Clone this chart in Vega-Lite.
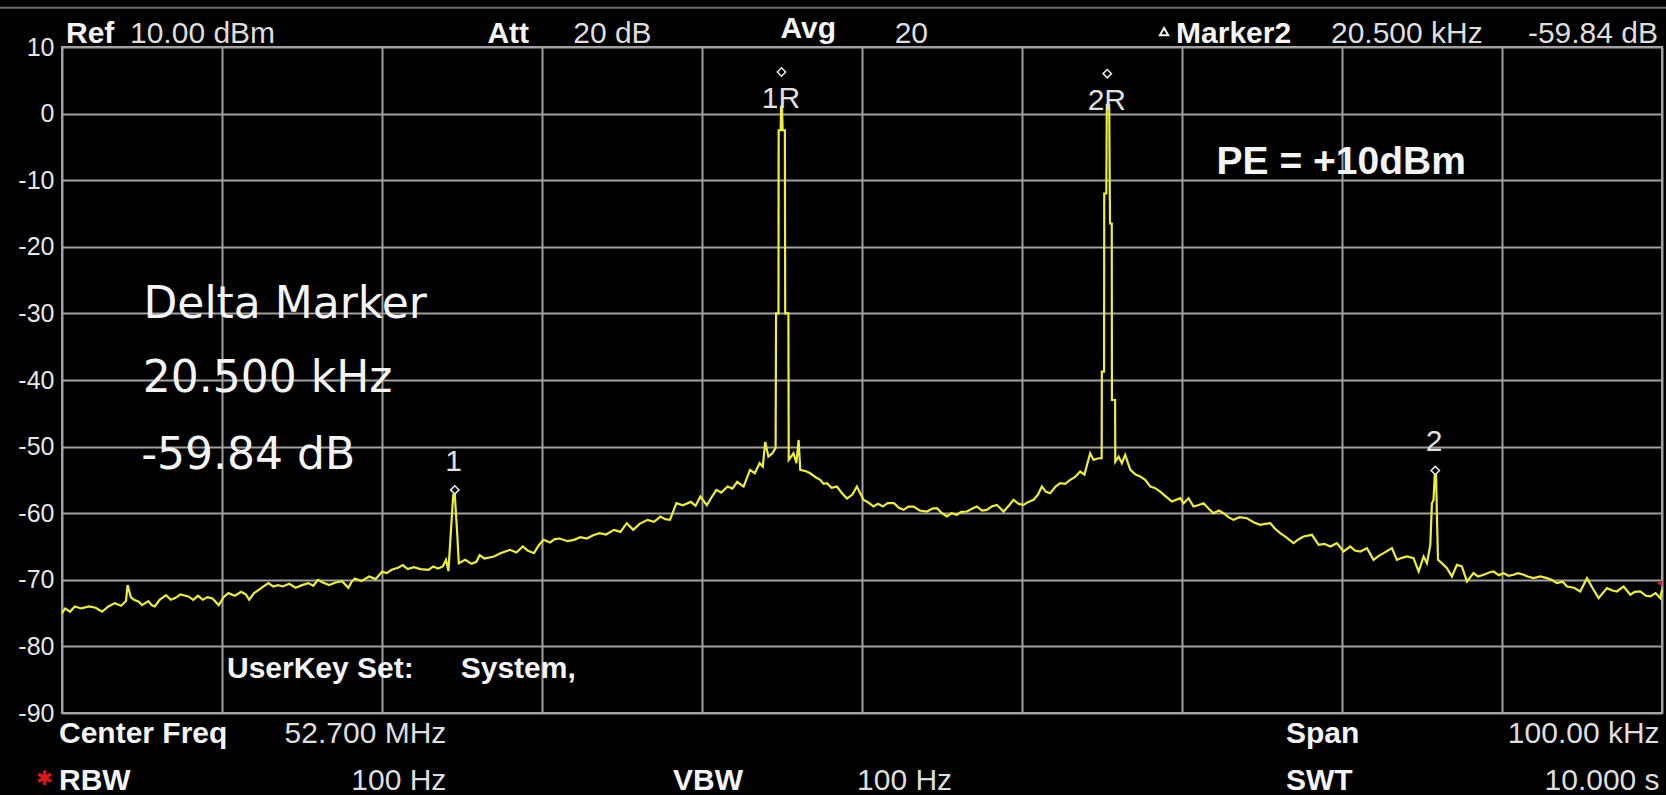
{
  "$schema": "https://vega.github.io/schema/vega-lite/v6.json",
  "autosize": "none",
  "width": 1600,
  "height": 666,
  "padding": {"left": 62, "top": 47, "right": 4, "bottom": 82},
  "background": "#000000",
  "config": {
    "view": {"fill": "#000000", "stroke": "#a8a8a8", "strokeWidth": 2},
    "text": {"font": "Liberation Sans", "baseline": "middle"}
  },
  "datasets": {
    "trace": [
      {"k": -50.0, "db": -75.0}, {"k": -49.8, "db": -74.3}, {"k": -49.5, "db": -74.8}, {"k": -49.2, "db": -74.0},
      {"k": -48.8, "db": -74.3}, {"k": -48.3, "db": -74.0}, {"k": -47.9, "db": -74.2}, {"k": -47.5, "db": -74.8},
      {"k": -47.1, "db": -74.0}, {"k": -46.7, "db": -73.5}, {"k": -46.3, "db": -73.9}, {"k": -46.0, "db": -73.2},
      {"k": -45.9, "db": -70.8}, {"k": -45.7, "db": -72.6}, {"k": -45.5, "db": -73.0}, {"k": -45.2, "db": -73.3},
      {"k": -45.0, "db": -73.8}, {"k": -44.6, "db": -73.2}, {"k": -44.4, "db": -73.8}, {"k": -44.2, "db": -74.0},
      {"k": -43.9, "db": -73.0}, {"k": -43.5, "db": -72.3}, {"k": -43.2, "db": -73.0}, {"k": -42.9, "db": -72.7},
      {"k": -42.6, "db": -72.2}, {"k": -42.1, "db": -72.5}, {"k": -41.8, "db": -73.0}, {"k": -41.5, "db": -72.4},
      {"k": -41.2, "db": -73.0}, {"k": -40.9, "db": -72.6}, {"k": -40.6, "db": -72.8}, {"k": -40.2, "db": -73.8},
      {"k": -39.9, "db": -72.6}, {"k": -39.6, "db": -72.0}, {"k": -39.2, "db": -72.4}, {"k": -38.8, "db": -71.8},
      {"k": -38.5, "db": -72.2}, {"k": -38.3, "db": -73.0}, {"k": -38.0, "db": -72.0}, {"k": -37.7, "db": -71.5},
      {"k": -37.4, "db": -71.0}, {"k": -37.1, "db": -70.5}, {"k": -36.8, "db": -71.0}, {"k": -36.5, "db": -70.8},
      {"k": -36.2, "db": -71.0}, {"k": -35.8, "db": -70.6}, {"k": -35.4, "db": -71.2}, {"k": -35.0, "db": -70.8},
      {"k": -34.6, "db": -70.5}, {"k": -34.3, "db": -70.9}, {"k": -34.0, "db": -70.0}, {"k": -33.7, "db": -70.4},
      {"k": -33.3, "db": -70.8}, {"k": -32.9, "db": -70.4}, {"k": -32.5, "db": -70.2}, {"k": -32.1, "db": -71.2},
      {"k": -31.9, "db": -70.3}, {"k": -31.7, "db": -69.8}, {"k": -31.3, "db": -70.2}, {"k": -30.8, "db": -69.5},
      {"k": -30.4, "db": -69.9}, {"k": -30.0, "db": -68.8}, {"k": -29.7, "db": -69.0}, {"k": -29.4, "db": -68.5},
      {"k": -29.0, "db": -68.2}, {"k": -28.7, "db": -67.8}, {"k": -28.4, "db": -68.4}, {"k": -28.0, "db": -68.1},
      {"k": -27.6, "db": -68.4}, {"k": -27.1, "db": -68.5}, {"k": -26.8, "db": -68.0}, {"k": -26.5, "db": -68.3},
      {"k": -26.2, "db": -68.0}, {"k": -26.0, "db": -67.0}, {"k": -25.85, "db": -68.7}, {"k": -25.7, "db": -63.0},
      {"k": -25.55, "db": -57.3}, {"k": -25.45, "db": -57.3}, {"k": -25.3, "db": -63.0}, {"k": -25.2, "db": -67.5},
      {"k": -24.8, "db": -67.0}, {"k": -24.4, "db": -67.6}, {"k": -24.1, "db": -67.3},
      {"k": -23.9, "db": -66.3}, {"k": -23.6, "db": -66.8}, {"k": -23.0, "db": -66.5}, {"k": -22.6, "db": -66.0},
      {"k": -22.0, "db": -65.5}, {"k": -21.6, "db": -65.9}, {"k": -21.2, "db": -65.0}, {"k": -20.9, "db": -65.6},
      {"k": -20.5, "db": -66.0}, {"k": -20.2, "db": -64.8}, {"k": -19.9, "db": -64.0}, {"k": -19.5, "db": -64.4},
      {"k": -19.2, "db": -63.9}, {"k": -18.9, "db": -63.8}, {"k": -18.4, "db": -64.2}, {"k": -18.0, "db": -64.0},
      {"k": -17.6, "db": -63.6}, {"k": -17.2, "db": -63.8}, {"k": -16.8, "db": -63.3}, {"k": -16.4, "db": -63.0},
      {"k": -16.0, "db": -63.2}, {"k": -15.5, "db": -62.5}, {"k": -15.1, "db": -62.8}, {"k": -14.7, "db": -61.5},
      {"k": -14.3, "db": -62.5}, {"k": -13.9, "db": -61.6}, {"k": -13.4, "db": -61.0}, {"k": -13.0, "db": -61.3},
      {"k": -12.6, "db": -60.5}, {"k": -12.3, "db": -60.9}, {"k": -12.0, "db": -61.0}, {"k": -11.6, "db": -58.5},
      {"k": -11.2, "db": -58.8}, {"k": -10.7, "db": -58.3}, {"k": -10.4, "db": -58.9}, {"k": -10.1, "db": -57.5},
      {"k": -9.7, "db": -58.8}, {"k": -9.4, "db": -57.6}, {"k": -9.1, "db": -56.5}, {"k": -8.8, "db": -56.9},
      {"k": -8.4, "db": -56.0}, {"k": -8.1, "db": -56.3}, {"k": -7.8, "db": -55.3}, {"k": -7.4, "db": -56.0},
      {"k": -7.0, "db": -53.5}, {"k": -6.7, "db": -54.0}, {"k": -6.4, "db": -52.5}, {"k": -6.2, "db": -53.0},
      {"k": -6.05, "db": -49.3}, {"k": -5.85, "db": -51.5}, {"k": -5.6, "db": -51.0}, {"k": -5.4, "db": -50.2},
      {"k": -5.37, "db": -30.0}, {"k": -5.22, "db": -30.0}, {"k": -5.21, "db": -2.5}, {"k": -5.08, "db": -2.5},
      {"k": -5.06, "db": 1.0}, {"k": -5.0, "db": 1.0}, {"k": -4.96, "db": -2.5}, {"k": -4.82, "db": -2.5},
      {"k": -4.8, "db": -30.0}, {"k": -4.6, "db": -30.0}, {"k": -4.58, "db": -52.0},
      {"k": -4.28, "db": -51.0}, {"k": -4.1, "db": -52.5}, {"k": -3.96, "db": -49.0}, {"k": -3.86, "db": -53.5},
      {"k": -3.5, "db": -53.7}, {"k": -3.24, "db": -54.0}, {"k": -2.9, "db": -54.6}, {"k": -2.61, "db": -55.0},
      {"k": -2.4, "db": -55.6}, {"k": -2.19, "db": -55.5}, {"k": -1.9, "db": -56.2}, {"k": -1.57, "db": -56.0},
      {"k": -1.25, "db": -57.0}, {"k": -0.94, "db": -57.8}, {"k": -0.6, "db": -57.2}, {"k": -0.32, "db": -56.0},
      {"k": 0.1, "db": -58.0}, {"k": 0.4, "db": -58.4}, {"k": 0.72, "db": -59.0}, {"k": 1.0, "db": -58.6},
      {"k": 1.3, "db": -59.0}, {"k": 1.6, "db": -58.5}, {"k": 2.0, "db": -58.5}, {"k": 2.3, "db": -59.2},
      {"k": 2.6, "db": -59.5}, {"k": 2.9, "db": -59.0}, {"k": 3.22, "db": -59.0}, {"k": 3.6, "db": -59.6},
      {"k": 4.06, "db": -59.75}, {"k": 4.4, "db": -59.3}, {"k": 4.68, "db": -59.25}, {"k": 5.0, "db": -60.0},
      {"k": 5.31, "db": -60.5}, {"k": 5.6, "db": -60.0}, {"k": 5.93, "db": -60.25}, {"k": 6.2, "db": -59.8},
      {"k": 6.56, "db": -59.75}, {"k": 6.9, "db": -59.3}, {"k": 7.18, "db": -59.0}, {"k": 7.5, "db": -59.6},
      {"k": 7.81, "db": -59.5}, {"k": 8.1, "db": -59.0}, {"k": 8.43, "db": -58.75}, {"k": 8.85, "db": -59.75},
      {"k": 9.2, "db": -58.8}, {"k": 9.47, "db": -58.0}, {"k": 9.8, "db": -58.6}, {"k": 10.1, "db": -58.75},
      {"k": 10.4, "db": -58.3}, {"k": 10.72, "db": -58.0}, {"k": 11.0, "db": -57.2}, {"k": 11.24, "db": -56.0},
      {"k": 11.5, "db": -56.8}, {"k": 11.76, "db": -57.0}, {"k": 12.1, "db": -56.0}, {"k": 12.39, "db": -55.5},
      {"k": 12.7, "db": -55.6}, {"k": 13.01, "db": -55.0}, {"k": 13.3, "db": -54.6}, {"k": 13.64, "db": -53.75},
      {"k": 13.9, "db": -54.2}, {"k": 14.26, "db": -51.0}, {"k": 14.47, "db": -52.0}, {"k": 14.79, "db": -51.75},
      {"k": 14.98, "db": -51.75}, {"k": 14.99, "db": -38.75}, {"k": 15.13, "db": -38.75}, {"k": 15.14, "db": -12.0},
      {"k": 15.27, "db": -12.0}, {"k": 15.3, "db": 1.3}, {"k": 15.45, "db": 1.3}, {"k": 15.5, "db": -16.5},
      {"k": 15.61, "db": -16.5}, {"k": 15.62, "db": -43.0}, {"k": 15.82, "db": -43.0}, {"k": 15.83, "db": -52.25},
      {"k": 16.04, "db": -51.5}, {"k": 16.24, "db": -52.5}, {"k": 16.45, "db": -51.25}, {"k": 16.77, "db": -53.5},
      {"k": 17.1, "db": -54.2}, {"k": 17.39, "db": -54.5}, {"k": 17.7, "db": -55.0}, {"k": 18.02, "db": -56.0},
      {"k": 18.3, "db": -56.2}, {"k": 18.64, "db": -56.75}, {"k": 19.0, "db": -57.5}, {"k": 19.37, "db": -58.25},
      {"k": 19.89, "db": -57.75}, {"k": 20.1, "db": -58.5}, {"k": 20.41, "db": -57.75}, {"k": 20.72, "db": -59.0},
      {"k": 21.0, "db": -58.8}, {"k": 21.35, "db": -58.5}, {"k": 21.7, "db": -59.4}, {"k": 21.97, "db": -60.0},
      {"k": 22.3, "db": -59.6}, {"k": 22.6, "db": -60.0}, {"k": 22.9, "db": -60.6}, {"k": 23.22, "db": -61.0},
      {"k": 23.6, "db": -60.6}, {"k": 24.06, "db": -60.75}, {"k": 24.5, "db": -61.4}, {"k": 24.89, "db": -61.75},
      {"k": 25.2, "db": -61.6}, {"k": 25.52, "db": -61.5}, {"k": 25.8, "db": -62.3}, {"k": 26.14, "db": -63.0},
      {"k": 26.5, "db": -63.6}, {"k": 26.97, "db": -64.5}, {"k": 27.3, "db": -63.9}, {"k": 27.6, "db": -63.5},
      {"k": 28.12, "db": -63.25}, {"k": 28.54, "db": -64.75}, {"k": 28.9, "db": -64.6}, {"k": 29.27, "db": -65.0},
      {"k": 29.68, "db": -64.5}, {"k": 30.1, "db": -65.75}, {"k": 30.52, "db": -65.0}, {"k": 30.8, "db": -65.6},
      {"k": 31.14, "db": -65.75}, {"k": 31.56, "db": -65.25}, {"k": 31.97, "db": -67.0}, {"k": 32.3, "db": -66.4},
      {"k": 32.6, "db": -66.0}, {"k": 33.12, "db": -65.25}, {"k": 33.43, "db": -67.0}, {"k": 33.75, "db": -66.7},
      {"k": 34.06, "db": -66.5}, {"k": 34.47, "db": -66.75}, {"k": 34.79, "db": -68.75}, {"k": 35.1, "db": -66.5},
      {"k": 35.31, "db": -67.5}, {"k": 35.52, "db": -64.75}, {"k": 35.62, "db": -58.5}, {"k": 35.72, "db": -58.0},
      {"k": 35.8, "db": -54.25}, {"k": 35.88, "db": -54.25}, {"k": 35.93, "db": -60.0}, {"k": 36.0, "db": -67.0},
      {"k": 36.24, "db": -67.5}, {"k": 36.56, "db": -68.25}, {"k": 36.87, "db": -69.5}, {"k": 37.18, "db": -67.75},
      {"k": 37.49, "db": -68.0}, {"k": 37.81, "db": -70.25}, {"k": 38.22, "db": -69.0}, {"k": 38.5, "db": -69.5},
      {"k": 38.85, "db": -69.25}, {"k": 39.2, "db": -68.9}, {"k": 39.47, "db": -68.75}, {"k": 39.8, "db": -69.3},
      {"k": 40.1, "db": -69.0}, {"k": 40.4, "db": -69.4}, {"k": 40.72, "db": -69.25}, {"k": 41.0, "db": -69.0},
      {"k": 41.35, "db": -69.25}, {"k": 41.6, "db": -69.5}, {"k": 41.97, "db": -69.75}, {"k": 42.4, "db": -69.5},
      {"k": 42.81, "db": -69.75}, {"k": 43.1, "db": -70.0}, {"k": 43.43, "db": -70.5}, {"k": 43.8, "db": -70.3},
      {"k": 44.06, "db": -71.0}, {"k": 44.5, "db": -71.2}, {"k": 44.89, "db": -71.75}, {"k": 45.31, "db": -69.75},
      {"k": 45.72, "db": -71.5}, {"k": 46.04, "db": -72.75}, {"k": 46.56, "db": -71.25}, {"k": 46.9, "db": -71.6},
      {"k": 47.18, "db": -71.75}, {"k": 47.6, "db": -71.0}, {"k": 48.02, "db": -72.25}, {"k": 48.3, "db": -71.8},
      {"k": 48.64, "db": -71.75}, {"k": 49.0, "db": -72.4}, {"k": 49.27, "db": -72.5}, {"k": 49.6, "db": -72.0},
      {"k": 49.89, "db": -72.75}, {"k": 50.0, "db": -71.5}
    ],
    "boldLabels": [
      {"k": -49.75, "db": 11.9, "t": "Ref"},
      {"k": -23.41, "db": 11.9, "t": "Att"},
      {"k": -5.1, "db": 12.7, "t": "Avg"},
      {"k": 19.63, "db": 11.9, "t": "Marker2"},
      {"k": -50.19, "db": -93.1, "t": "Center Freq"},
      {"k": 26.5, "db": -93.1, "t": "Span"},
      {"k": -50.19, "db": -100.15, "t": "RBW"},
      {"k": -11.81, "db": -100.15, "t": "VBW"},
      {"k": 26.5, "db": -100.15, "t": "SWT"},
      {"k": -39.69, "db": -83.45, "t": "UserKey Set:"},
      {"k": -25.08, "db": -83.45, "t": "System,"}
    ],
    "valueLeft": [
      {"k": -45.75, "db": 11.9, "t": "10.00 dBm"},
      {"k": -18.05, "db": 11.9, "t": "20 dB"},
      {"k": 2.04, "db": 11.9, "t": "20"},
      {"k": 29.31, "db": 11.9, "t": "20.500 kHz"},
      {"k": -0.31, "db": -100.15, "t": "100 Hz"}
    ],
    "valueRight": [
      {"k": 49.75, "db": 11.9, "t": "-59.84 dB"},
      {"k": -25.98, "db": -93.1, "t": "52.700 MHz"},
      {"k": -25.98, "db": -100.15, "t": "100 Hz"},
      {"k": 49.85, "db": -93.1, "t": "100.00 kHz"},
      {"k": 49.85, "db": -100.15, "t": "10.000 s"}
    ],
    "bigNote": [
      {"k": -44.91, "db": -28.75, "t": "Delta Marker"},
      {"k": -44.95, "db": -39.9, "t": "20.500 kHz"},
      {"k": -45.05, "db": -51.4, "t": "-59.84 dB"}
    ],
    "pe": [{"k": 22.16, "db": -7.3, "t": "PE = +10dBm"}],
    "markerLabels": [
      {"k": -5.06, "db": 2.2, "t": "1R"},
      {"k": 15.3, "db": 1.9, "t": "2R"},
      {"k": -25.52, "db": -52.25, "t": "1"},
      {"k": 35.75, "db": -49.25, "t": "2"}
    ],
    "markerDiamonds": [
      {"k": -5.03, "db": 6.25},
      {"k": 15.33, "db": 6.0},
      {"k": -25.45, "db": -56.5},
      {"k": 35.83, "db": -53.6}
    ],
    "deltaTri": [{"k": 18.88, "db": 12.3}],
    "star": [{"k": -51.1, "db": -99.9, "t": "✱"}],
    "refArrow": [{"k": 49.85, "db": -70.5}],
    "frame": [{"k": -53.9, "k2": 50.3, "db": 15.9}]
  },
  "data": {"name": "trace"},
  "encoding": {
    "x": {
      "field": "k", "type": "quantitative",
      "scale": {"domain": [-50, 50], "nice": false, "zero": false},
      "axis": {"orient": "bottom", "values": [-50, -40, -30, -20, -10, 0, 10, 20, 30, 40, 50], "labels": false, "ticks": false, "domain": false, "grid": true, "gridColor": "#a0a0a0", "gridWidth": 2, "title": null}
    },
    "y": {
      "field": "db", "type": "quantitative",
      "scale": {"domain": [-90, 10], "nice": false, "zero": false},
      "axis": {"values": [10, 0, -10, -20, -30, -40, -50, -60, -70, -80, -90], "labelExpr": "'' + datum.value", "labelFont": "Liberation Sans", "labelFontSize": 25, "labelColor": "#e6e6e6", "labelPadding": 8, "ticks": false, "domain": false, "grid": true, "gridColor": "#a0a0a0", "gridWidth": 2, "title": null}
    }
  },
  "layer": [
    {
      "data": {"name": "frame"},
      "mark": {"type": "rule", "color": "#6a6a6a", "strokeWidth": 2},
      "encoding": {"x2": {"field": "k2"}}
    },
    {
      "mark": {"type": "line", "color": "#eeee38", "strokeWidth": 2.2, "interpolate": "linear"}
    },
    {
      "data": {"name": "markerDiamonds"},
      "mark": {"type": "point", "shape": "diamond", "filled": false, "color": "#e8e8e8", "size": 70, "strokeWidth": 1.5, "opacity": 1}
    },
    {
      "data": {"name": "deltaTri"},
      "mark": {"type": "point", "shape": "triangle-up", "filled": false, "color": "#f0f0f0", "size": 70, "strokeWidth": 2, "opacity": 1}
    },
    {
      "data": {"name": "refArrow"},
      "mark": {"type": "point", "shape": "triangle-left", "filled": true, "color": "#d02020", "size": 40, "opacity": 1}
    },
    {
      "data": {"name": "boldLabels"},
      "mark": {"type": "text", "align": "left", "fontWeight": "bold", "fontSize": 30, "color": "#f4f4f4"},
      "encoding": {"text": {"field": "t"}}
    },
    {
      "data": {"name": "valueLeft"},
      "mark": {"type": "text", "align": "left", "fontSize": 30, "color": "#dedede"},
      "encoding": {"text": {"field": "t"}}
    },
    {
      "data": {"name": "valueRight"},
      "mark": {"type": "text", "align": "right", "fontSize": 30, "color": "#dedede"},
      "encoding": {"text": {"field": "t"}}
    },
    {
      "data": {"name": "bigNote"},
      "mark": {"type": "text", "align": "left", "font": "DejaVu Sans", "fontSize": 44, "color": "#f4f4f4"},
      "encoding": {"text": {"field": "t"}}
    },
    {
      "data": {"name": "pe"},
      "mark": {"type": "text", "align": "left", "fontWeight": "bold", "fontSize": 39, "color": "#f4f4f4"},
      "encoding": {"text": {"field": "t"}}
    },
    {
      "data": {"name": "markerLabels"},
      "mark": {"type": "text", "align": "center", "fontSize": 30, "color": "#e0e0e0"},
      "encoding": {"text": {"field": "t"}}
    },
    {
      "data": {"name": "star"},
      "mark": {"type": "text", "align": "center", "font": "DejaVu Sans", "fontSize": 20, "color": "#e01818"},
      "encoding": {"text": {"field": "t"}}
    }
  ]
}
